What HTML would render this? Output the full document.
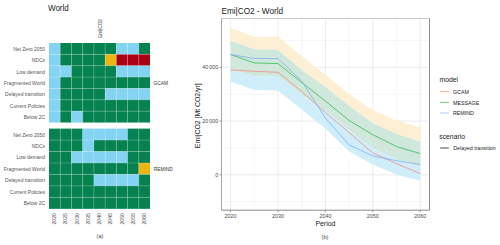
<!DOCTYPE html>
<html><head><meta charset="utf-8"><style>
html,body{margin:0;padding:0;background:#fff;}
body{width:500px;height:245px;overflow:hidden;}
svg{display:block;font-family:"Liberation Sans",sans-serif;}
.rl{font-size:5.0px;fill:#555;}
.yl{font-size:5.2px;fill:#4d4d4d;}
.tk{font-size:5.4px;fill:#4d4d4d;}
</style></head><body>
<svg width="500" height="245" viewBox="0 0 500 245">
<text transform="translate(47.9,11.1) scale(1,1.12)" font-size="8.1" fill="#222">World</text>
<text transform="translate(101.6,38.0) rotate(-90)" font-size="4.7" fill="#3a3a3a">Emi|CO2</text>
<rect x="49.00" y="43.00" width="11.24" height="11.38" fill="#83d3f3"/>
<rect x="60.22" y="43.00" width="11.24" height="11.38" fill="#05824f"/>
<rect x="71.44" y="43.00" width="11.24" height="11.38" fill="#05824f"/>
<rect x="82.67" y="43.00" width="11.24" height="11.38" fill="#05824f"/>
<rect x="93.89" y="43.00" width="11.24" height="11.38" fill="#05824f"/>
<rect x="105.11" y="43.00" width="11.24" height="11.38" fill="#05824f"/>
<rect x="116.33" y="43.00" width="11.24" height="11.38" fill="#83d3f3"/>
<rect x="127.56" y="43.00" width="11.24" height="11.38" fill="#83d3f3"/>
<rect x="138.78" y="43.00" width="11.24" height="11.38" fill="#05824f"/>
<rect x="49.00" y="54.36" width="11.24" height="11.38" fill="#83d3f3"/>
<rect x="60.22" y="54.36" width="11.24" height="11.38" fill="#05824f"/>
<rect x="71.44" y="54.36" width="11.24" height="11.38" fill="#05824f"/>
<rect x="82.67" y="54.36" width="11.24" height="11.38" fill="#05824f"/>
<rect x="93.89" y="54.36" width="11.24" height="11.38" fill="#05824f"/>
<rect x="105.11" y="54.36" width="11.24" height="11.38" fill="#eeb512"/>
<rect x="116.33" y="54.36" width="11.24" height="11.38" fill="#aa0016"/>
<rect x="127.56" y="54.36" width="11.24" height="11.38" fill="#aa0016"/>
<rect x="138.78" y="54.36" width="11.24" height="11.38" fill="#aa0016"/>
<rect x="49.00" y="65.71" width="11.24" height="11.38" fill="#83d3f3"/>
<rect x="60.22" y="65.71" width="11.24" height="11.38" fill="#83d3f3"/>
<rect x="71.44" y="65.71" width="11.24" height="11.38" fill="#05824f"/>
<rect x="82.67" y="65.71" width="11.24" height="11.38" fill="#05824f"/>
<rect x="93.89" y="65.71" width="11.24" height="11.38" fill="#05824f"/>
<rect x="105.11" y="65.71" width="11.24" height="11.38" fill="#05824f"/>
<rect x="116.33" y="65.71" width="11.24" height="11.38" fill="#83d3f3"/>
<rect x="127.56" y="65.71" width="11.24" height="11.38" fill="#83d3f3"/>
<rect x="138.78" y="65.71" width="11.24" height="11.38" fill="#83d3f3"/>
<rect x="49.00" y="77.07" width="11.24" height="11.38" fill="#83d3f3"/>
<rect x="60.22" y="77.07" width="11.24" height="11.38" fill="#05824f"/>
<rect x="71.44" y="77.07" width="11.24" height="11.38" fill="#05824f"/>
<rect x="82.67" y="77.07" width="11.24" height="11.38" fill="#05824f"/>
<rect x="93.89" y="77.07" width="11.24" height="11.38" fill="#05824f"/>
<rect x="105.11" y="77.07" width="11.24" height="11.38" fill="#05824f"/>
<rect x="116.33" y="77.07" width="11.24" height="11.38" fill="#05824f"/>
<rect x="127.56" y="77.07" width="11.24" height="11.38" fill="#05824f"/>
<rect x="138.78" y="77.07" width="11.24" height="11.38" fill="#05824f"/>
<rect x="49.00" y="88.43" width="11.24" height="11.38" fill="#83d3f3"/>
<rect x="60.22" y="88.43" width="11.24" height="11.38" fill="#05824f"/>
<rect x="71.44" y="88.43" width="11.24" height="11.38" fill="#05824f"/>
<rect x="82.67" y="88.43" width="11.24" height="11.38" fill="#05824f"/>
<rect x="93.89" y="88.43" width="11.24" height="11.38" fill="#05824f"/>
<rect x="105.11" y="88.43" width="11.24" height="11.38" fill="#83d3f3"/>
<rect x="116.33" y="88.43" width="11.24" height="11.38" fill="#83d3f3"/>
<rect x="127.56" y="88.43" width="11.24" height="11.38" fill="#83d3f3"/>
<rect x="138.78" y="88.43" width="11.24" height="11.38" fill="#83d3f3"/>
<rect x="49.00" y="99.79" width="11.24" height="11.38" fill="#83d3f3"/>
<rect x="60.22" y="99.79" width="11.24" height="11.38" fill="#05824f"/>
<rect x="71.44" y="99.79" width="11.24" height="11.38" fill="#05824f"/>
<rect x="82.67" y="99.79" width="11.24" height="11.38" fill="#05824f"/>
<rect x="93.89" y="99.79" width="11.24" height="11.38" fill="#05824f"/>
<rect x="105.11" y="99.79" width="11.24" height="11.38" fill="#05824f"/>
<rect x="116.33" y="99.79" width="11.24" height="11.38" fill="#05824f"/>
<rect x="127.56" y="99.79" width="11.24" height="11.38" fill="#05824f"/>
<rect x="138.78" y="99.79" width="11.24" height="11.38" fill="#05824f"/>
<rect x="49.00" y="111.14" width="11.24" height="11.38" fill="#83d3f3"/>
<rect x="60.22" y="111.14" width="11.24" height="11.38" fill="#05824f"/>
<rect x="71.44" y="111.14" width="11.24" height="11.38" fill="#83d3f3"/>
<rect x="82.67" y="111.14" width="11.24" height="11.38" fill="#05824f"/>
<rect x="93.89" y="111.14" width="11.24" height="11.38" fill="#05824f"/>
<rect x="105.11" y="111.14" width="11.24" height="11.38" fill="#05824f"/>
<rect x="116.33" y="111.14" width="11.24" height="11.38" fill="#05824f"/>
<rect x="127.56" y="111.14" width="11.24" height="11.38" fill="#05824f"/>
<rect x="138.78" y="111.14" width="11.24" height="11.38" fill="#05824f"/>
<line x1="60.22" y1="43.0" x2="60.22" y2="122.50" stroke="#fff" stroke-opacity="0.35" stroke-width="0.6"/>
<line x1="71.44" y1="43.0" x2="71.44" y2="122.50" stroke="#fff" stroke-opacity="0.35" stroke-width="0.6"/>
<line x1="82.67" y1="43.0" x2="82.67" y2="122.50" stroke="#fff" stroke-opacity="0.35" stroke-width="0.6"/>
<line x1="93.89" y1="43.0" x2="93.89" y2="122.50" stroke="#fff" stroke-opacity="0.35" stroke-width="0.6"/>
<line x1="105.11" y1="43.0" x2="105.11" y2="122.50" stroke="#fff" stroke-opacity="0.35" stroke-width="0.6"/>
<line x1="116.33" y1="43.0" x2="116.33" y2="122.50" stroke="#fff" stroke-opacity="0.35" stroke-width="0.6"/>
<line x1="127.56" y1="43.0" x2="127.56" y2="122.50" stroke="#fff" stroke-opacity="0.35" stroke-width="0.6"/>
<line x1="138.78" y1="43.0" x2="138.78" y2="122.50" stroke="#fff" stroke-opacity="0.35" stroke-width="0.6"/>
<line x1="49.0" y1="54.36" x2="150.00" y2="54.36" stroke="#fff" stroke-opacity="0.35" stroke-width="0.6"/>
<line x1="49.0" y1="65.71" x2="150.00" y2="65.71" stroke="#fff" stroke-opacity="0.35" stroke-width="0.6"/>
<line x1="49.0" y1="77.07" x2="150.00" y2="77.07" stroke="#fff" stroke-opacity="0.35" stroke-width="0.6"/>
<line x1="49.0" y1="88.43" x2="150.00" y2="88.43" stroke="#fff" stroke-opacity="0.35" stroke-width="0.6"/>
<line x1="49.0" y1="99.79" x2="150.00" y2="99.79" stroke="#fff" stroke-opacity="0.35" stroke-width="0.6"/>
<line x1="49.0" y1="111.14" x2="150.00" y2="111.14" stroke="#fff" stroke-opacity="0.35" stroke-width="0.6"/>
<text x="45.1" y="50.93" text-anchor="end" class="rl">Net Zero 2050</text>
<text x="45.1" y="62.29" text-anchor="end" class="rl">NDCs</text>
<text x="45.1" y="73.64" text-anchor="end" class="rl">Low demand</text>
<text x="45.1" y="85.00" text-anchor="end" class="rl">Fragmented World</text>
<text x="45.1" y="96.36" text-anchor="end" class="rl">Delayed transition</text>
<text x="45.1" y="107.71" text-anchor="end" class="rl">Current Policies</text>
<text x="45.1" y="119.07" text-anchor="end" class="rl">Below 2C</text>
<rect x="49.00" y="128.60" width="11.24" height="11.48" fill="#05824f"/>
<rect x="60.22" y="128.60" width="11.24" height="11.48" fill="#05824f"/>
<rect x="71.44" y="128.60" width="11.24" height="11.48" fill="#05824f"/>
<rect x="82.67" y="128.60" width="11.24" height="11.48" fill="#83d3f3"/>
<rect x="93.89" y="128.60" width="11.24" height="11.48" fill="#83d3f3"/>
<rect x="105.11" y="128.60" width="11.24" height="11.48" fill="#83d3f3"/>
<rect x="116.33" y="128.60" width="11.24" height="11.48" fill="#83d3f3"/>
<rect x="127.56" y="128.60" width="11.24" height="11.48" fill="#05824f"/>
<rect x="138.78" y="128.60" width="11.24" height="11.48" fill="#05824f"/>
<rect x="49.00" y="140.06" width="11.24" height="11.48" fill="#05824f"/>
<rect x="60.22" y="140.06" width="11.24" height="11.48" fill="#05824f"/>
<rect x="71.44" y="140.06" width="11.24" height="11.48" fill="#05824f"/>
<rect x="82.67" y="140.06" width="11.24" height="11.48" fill="#83d3f3"/>
<rect x="93.89" y="140.06" width="11.24" height="11.48" fill="#05824f"/>
<rect x="105.11" y="140.06" width="11.24" height="11.48" fill="#05824f"/>
<rect x="116.33" y="140.06" width="11.24" height="11.48" fill="#05824f"/>
<rect x="127.56" y="140.06" width="11.24" height="11.48" fill="#05824f"/>
<rect x="138.78" y="140.06" width="11.24" height="11.48" fill="#05824f"/>
<rect x="49.00" y="151.51" width="11.24" height="11.48" fill="#05824f"/>
<rect x="60.22" y="151.51" width="11.24" height="11.48" fill="#05824f"/>
<rect x="71.44" y="151.51" width="11.24" height="11.48" fill="#83d3f3"/>
<rect x="82.67" y="151.51" width="11.24" height="11.48" fill="#83d3f3"/>
<rect x="93.89" y="151.51" width="11.24" height="11.48" fill="#83d3f3"/>
<rect x="105.11" y="151.51" width="11.24" height="11.48" fill="#83d3f3"/>
<rect x="116.33" y="151.51" width="11.24" height="11.48" fill="#83d3f3"/>
<rect x="127.56" y="151.51" width="11.24" height="11.48" fill="#05824f"/>
<rect x="138.78" y="151.51" width="11.24" height="11.48" fill="#05824f"/>
<rect x="49.00" y="162.97" width="11.24" height="11.48" fill="#05824f"/>
<rect x="60.22" y="162.97" width="11.24" height="11.48" fill="#05824f"/>
<rect x="71.44" y="162.97" width="11.24" height="11.48" fill="#05824f"/>
<rect x="82.67" y="162.97" width="11.24" height="11.48" fill="#05824f"/>
<rect x="93.89" y="162.97" width="11.24" height="11.48" fill="#05824f"/>
<rect x="105.11" y="162.97" width="11.24" height="11.48" fill="#05824f"/>
<rect x="116.33" y="162.97" width="11.24" height="11.48" fill="#05824f"/>
<rect x="127.56" y="162.97" width="11.24" height="11.48" fill="#05824f"/>
<rect x="138.78" y="162.97" width="11.24" height="11.48" fill="#eeb512"/>
<rect x="49.00" y="174.43" width="11.24" height="11.48" fill="#05824f"/>
<rect x="60.22" y="174.43" width="11.24" height="11.48" fill="#05824f"/>
<rect x="71.44" y="174.43" width="11.24" height="11.48" fill="#05824f"/>
<rect x="82.67" y="174.43" width="11.24" height="11.48" fill="#05824f"/>
<rect x="93.89" y="174.43" width="11.24" height="11.48" fill="#83d3f3"/>
<rect x="105.11" y="174.43" width="11.24" height="11.48" fill="#83d3f3"/>
<rect x="116.33" y="174.43" width="11.24" height="11.48" fill="#83d3f3"/>
<rect x="127.56" y="174.43" width="11.24" height="11.48" fill="#83d3f3"/>
<rect x="138.78" y="174.43" width="11.24" height="11.48" fill="#05824f"/>
<rect x="49.00" y="185.89" width="11.24" height="11.48" fill="#05824f"/>
<rect x="60.22" y="185.89" width="11.24" height="11.48" fill="#05824f"/>
<rect x="71.44" y="185.89" width="11.24" height="11.48" fill="#05824f"/>
<rect x="82.67" y="185.89" width="11.24" height="11.48" fill="#05824f"/>
<rect x="93.89" y="185.89" width="11.24" height="11.48" fill="#05824f"/>
<rect x="105.11" y="185.89" width="11.24" height="11.48" fill="#05824f"/>
<rect x="116.33" y="185.89" width="11.24" height="11.48" fill="#05824f"/>
<rect x="127.56" y="185.89" width="11.24" height="11.48" fill="#05824f"/>
<rect x="138.78" y="185.89" width="11.24" height="11.48" fill="#05824f"/>
<rect x="49.00" y="197.34" width="11.24" height="11.48" fill="#05824f"/>
<rect x="60.22" y="197.34" width="11.24" height="11.48" fill="#05824f"/>
<rect x="71.44" y="197.34" width="11.24" height="11.48" fill="#05824f"/>
<rect x="82.67" y="197.34" width="11.24" height="11.48" fill="#05824f"/>
<rect x="93.89" y="197.34" width="11.24" height="11.48" fill="#05824f"/>
<rect x="105.11" y="197.34" width="11.24" height="11.48" fill="#05824f"/>
<rect x="116.33" y="197.34" width="11.24" height="11.48" fill="#05824f"/>
<rect x="127.56" y="197.34" width="11.24" height="11.48" fill="#05824f"/>
<rect x="138.78" y="197.34" width="11.24" height="11.48" fill="#05824f"/>
<line x1="60.22" y1="128.6" x2="60.22" y2="208.80" stroke="#fff" stroke-opacity="0.35" stroke-width="0.6"/>
<line x1="71.44" y1="128.6" x2="71.44" y2="208.80" stroke="#fff" stroke-opacity="0.35" stroke-width="0.6"/>
<line x1="82.67" y1="128.6" x2="82.67" y2="208.80" stroke="#fff" stroke-opacity="0.35" stroke-width="0.6"/>
<line x1="93.89" y1="128.6" x2="93.89" y2="208.80" stroke="#fff" stroke-opacity="0.35" stroke-width="0.6"/>
<line x1="105.11" y1="128.6" x2="105.11" y2="208.80" stroke="#fff" stroke-opacity="0.35" stroke-width="0.6"/>
<line x1="116.33" y1="128.6" x2="116.33" y2="208.80" stroke="#fff" stroke-opacity="0.35" stroke-width="0.6"/>
<line x1="127.56" y1="128.6" x2="127.56" y2="208.80" stroke="#fff" stroke-opacity="0.35" stroke-width="0.6"/>
<line x1="138.78" y1="128.6" x2="138.78" y2="208.80" stroke="#fff" stroke-opacity="0.35" stroke-width="0.6"/>
<line x1="49.0" y1="140.06" x2="150.00" y2="140.06" stroke="#fff" stroke-opacity="0.35" stroke-width="0.6"/>
<line x1="49.0" y1="151.51" x2="150.00" y2="151.51" stroke="#fff" stroke-opacity="0.35" stroke-width="0.6"/>
<line x1="49.0" y1="162.97" x2="150.00" y2="162.97" stroke="#fff" stroke-opacity="0.35" stroke-width="0.6"/>
<line x1="49.0" y1="174.43" x2="150.00" y2="174.43" stroke="#fff" stroke-opacity="0.35" stroke-width="0.6"/>
<line x1="49.0" y1="185.89" x2="150.00" y2="185.89" stroke="#fff" stroke-opacity="0.35" stroke-width="0.6"/>
<line x1="49.0" y1="197.34" x2="150.00" y2="197.34" stroke="#fff" stroke-opacity="0.35" stroke-width="0.6"/>
<text x="45.1" y="136.58" text-anchor="end" class="rl">Net Zero 2050</text>
<text x="45.1" y="148.04" text-anchor="end" class="rl">NDCs</text>
<text x="45.1" y="159.49" text-anchor="end" class="rl">Low demand</text>
<text x="45.1" y="170.95" text-anchor="end" class="rl">Fragmented World</text>
<text x="45.1" y="182.41" text-anchor="end" class="rl">Delayed transition</text>
<text x="45.1" y="193.86" text-anchor="end" class="rl">Current Policies</text>
<text x="45.1" y="205.32" text-anchor="end" class="rl">Below 2C</text>
<text transform="translate(56.21,213) rotate(-90)" text-anchor="end" class="yl">2020</text>
<text transform="translate(67.43,213) rotate(-90)" text-anchor="end" class="yl">2025</text>
<text transform="translate(78.66,213) rotate(-90)" text-anchor="end" class="yl">2030</text>
<text transform="translate(89.88,213) rotate(-90)" text-anchor="end" class="yl">2035</text>
<text transform="translate(101.10,213) rotate(-90)" text-anchor="end" class="yl">2040</text>
<text transform="translate(112.32,213) rotate(-90)" text-anchor="end" class="yl">2045</text>
<text transform="translate(123.54,213) rotate(-90)" text-anchor="end" class="yl">2050</text>
<text transform="translate(134.77,213) rotate(-90)" text-anchor="end" class="yl">2055</text>
<text transform="translate(145.99,213) rotate(-90)" text-anchor="end" class="yl">2060</text>
<text x="153.6" y="84.9" font-size="4.8" fill="#333">GCAM</text>
<text x="153.8" y="170.7" font-size="4.8" fill="#333">REMIND</text>
<text x="100" y="238.3" font-size="5.6" text-anchor="middle" fill="#444">(a)</text>
<line x1="254.30" y1="18.5" x2="254.30" y2="210.2" stroke="#efefef" stroke-width="0.5"/>
<line x1="301.70" y1="18.5" x2="301.70" y2="210.2" stroke="#efefef" stroke-width="0.5"/>
<line x1="349.10" y1="18.5" x2="349.10" y2="210.2" stroke="#efefef" stroke-width="0.5"/>
<line x1="396.50" y1="18.5" x2="396.50" y2="210.2" stroke="#efefef" stroke-width="0.5"/>
<line x1="221.5" y1="201.65" x2="429.5" y2="201.65" stroke="#efefef" stroke-width="0.5"/>
<line x1="221.5" y1="147.95" x2="429.5" y2="147.95" stroke="#efefef" stroke-width="0.5"/>
<line x1="221.5" y1="94.25" x2="429.5" y2="94.25" stroke="#efefef" stroke-width="0.5"/>
<line x1="221.5" y1="40.55" x2="429.5" y2="40.55" stroke="#efefef" stroke-width="0.5"/>
<line x1="230.60" y1="18.5" x2="230.60" y2="210.2" stroke="#e4e4e4" stroke-width="0.7"/>
<line x1="278.00" y1="18.5" x2="278.00" y2="210.2" stroke="#e4e4e4" stroke-width="0.7"/>
<line x1="325.40" y1="18.5" x2="325.40" y2="210.2" stroke="#e4e4e4" stroke-width="0.7"/>
<line x1="372.80" y1="18.5" x2="372.80" y2="210.2" stroke="#e4e4e4" stroke-width="0.7"/>
<line x1="420.20" y1="18.5" x2="420.20" y2="210.2" stroke="#e4e4e4" stroke-width="0.7"/>
<line x1="221.5" y1="174.80" x2="429.5" y2="174.80" stroke="#e4e4e4" stroke-width="0.7"/>
<line x1="221.5" y1="121.10" x2="429.5" y2="121.10" stroke="#e4e4e4" stroke-width="0.7"/>
<line x1="221.5" y1="67.40" x2="429.5" y2="67.40" stroke="#e4e4e4" stroke-width="0.7"/>
<polygon points="230.60,27.70 254.30,36.80 278.00,36.80 301.70,56.00 325.40,74.80 349.10,94.30 372.80,110.00 396.50,120.50 420.20,127.20 420.20,141.40 396.50,134.00 372.80,123.00 349.10,106.00 325.40,87.00 301.70,70.00 278.00,50.10 254.30,49.30 230.60,40.90" fill="#fdefd3"/>
<polygon points="230.60,40.90 254.30,49.30 278.00,50.10 301.70,70.00 325.40,87.00 349.10,106.00 372.80,123.00 396.50,134.00 420.20,141.40 420.20,167.00 396.50,159.50 372.80,148.00 349.10,130.00 325.40,110.50 301.70,94.50 278.00,76.00 254.30,76.50 230.60,69.00" fill="#d0e7dc"/>
<polygon points="230.60,69.00 254.30,76.50 278.00,76.00 301.70,94.50 325.40,110.50 349.10,130.00 372.80,148.00 396.50,159.50 420.20,167.00 420.20,180.40 396.50,174.70 372.80,164.50 349.10,151.60 325.40,128.50 301.70,109.60 278.00,90.60 254.30,89.90 230.60,81.60" fill="#cfeef9"/>
<polyline points="230.60,70.00 254.30,71.30 278.00,72.30 301.70,91.50 325.40,112.50 349.10,132.50 372.80,153.00 396.50,163.60 420.20,173.60" fill="none" stroke="#f08a83" stroke-width="0.8"/>
<polyline points="230.60,54.50 254.30,62.90 278.00,63.60 301.70,82.40 325.40,101.00 349.10,120.50 372.80,134.70 396.50,146.60 420.20,153.60" fill="none" stroke="#2fbf55" stroke-width="0.8"/>
<polyline points="230.60,54.50 254.30,58.50 278.00,58.60 301.70,81.00 325.40,118.00 349.10,144.90 372.80,156.00 396.50,160.70 420.20,164.60" fill="none" stroke="#80aef3" stroke-width="0.8"/>
<line x1="221.5" y1="18.5" x2="429.5" y2="18.5" stroke="#c6c6c6" stroke-width="1"/>
<line x1="221.5" y1="18.5" x2="221.5" y2="210.2" stroke="#a8a8a8" stroke-width="1"/>
<line x1="429.5" y1="18.5" x2="429.5" y2="210.2" stroke="#8c8c8c" stroke-width="1"/>
<line x1="221.5" y1="210.2" x2="429.5" y2="210.2" stroke="#8c8c8c" stroke-width="1"/>
<line x1="230.60" y1="210.2" x2="230.60" y2="212.2" stroke="#777" stroke-width="0.7"/>
<text x="230.60" y="218.1" text-anchor="middle" class="tk">2020</text>
<line x1="278.00" y1="210.2" x2="278.00" y2="212.2" stroke="#777" stroke-width="0.7"/>
<text x="278.00" y="218.1" text-anchor="middle" class="tk">2030</text>
<line x1="325.40" y1="210.2" x2="325.40" y2="212.2" stroke="#777" stroke-width="0.7"/>
<text x="325.40" y="218.1" text-anchor="middle" class="tk">2040</text>
<line x1="372.80" y1="210.2" x2="372.80" y2="212.2" stroke="#777" stroke-width="0.7"/>
<text x="372.80" y="218.1" text-anchor="middle" class="tk">2050</text>
<line x1="420.20" y1="210.2" x2="420.20" y2="212.2" stroke="#777" stroke-width="0.7"/>
<text x="420.20" y="218.1" text-anchor="middle" class="tk">2060</text>
<line x1="219.5" y1="174.80" x2="221.5" y2="174.80" stroke="#777" stroke-width="0.7"/>
<text x="218.3" y="176.80" text-anchor="end" class="tk">0</text>
<line x1="219.5" y1="121.10" x2="221.5" y2="121.10" stroke="#777" stroke-width="0.7"/>
<text x="218.3" y="123.10" text-anchor="end" class="tk">20 000</text>
<line x1="219.5" y1="67.40" x2="221.5" y2="67.40" stroke="#777" stroke-width="0.7"/>
<text x="218.3" y="69.40" text-anchor="end" class="tk">40 000</text>
<text transform="translate(221.5,13.9) scale(1,1.07)" font-size="8.2" fill="#222">Emi|CO2 - World</text>
<text x="325.4" y="225.8" font-size="6.9" text-anchor="middle" fill="#222">Period</text>
<text transform="translate(199.8,115.7) rotate(-90)" font-size="6.9" text-anchor="middle" fill="#222">Emi|CO2 [Mt CO2/yr]</text>
<text x="439.5" y="82" font-size="6.8" fill="#222">model</text>
<line x1="440.1" y1="91.4" x2="449" y2="91.4" stroke="#f4a19b" stroke-width="0.9"/>
<line x1="440.1" y1="102.4" x2="449" y2="102.4" stroke="#5ec87c" stroke-width="0.9"/>
<line x1="440.1" y1="113" x2="449" y2="113" stroke="#a3c4f6" stroke-width="0.9"/>
<text x="453" y="93.7" font-size="5.3" fill="#222">GCAM</text>
<text x="453" y="104.8" font-size="5.3" fill="#222">MESSAGE</text>
<text x="453" y="115.4" font-size="5.3" fill="#222">REMIND</text>
<text x="439.3" y="138.9" font-size="6.8" fill="#222">scenario</text>
<line x1="440.2" y1="148" x2="448.8" y2="148" stroke="#9a9a9a" stroke-width="1.8"/>
<text x="453.3" y="150.4" font-size="5.3" fill="#222">Delayed transition</text>
<text x="325" y="239" font-size="5.6" text-anchor="middle" fill="#444">(b)</text>
</svg>
</body></html>
